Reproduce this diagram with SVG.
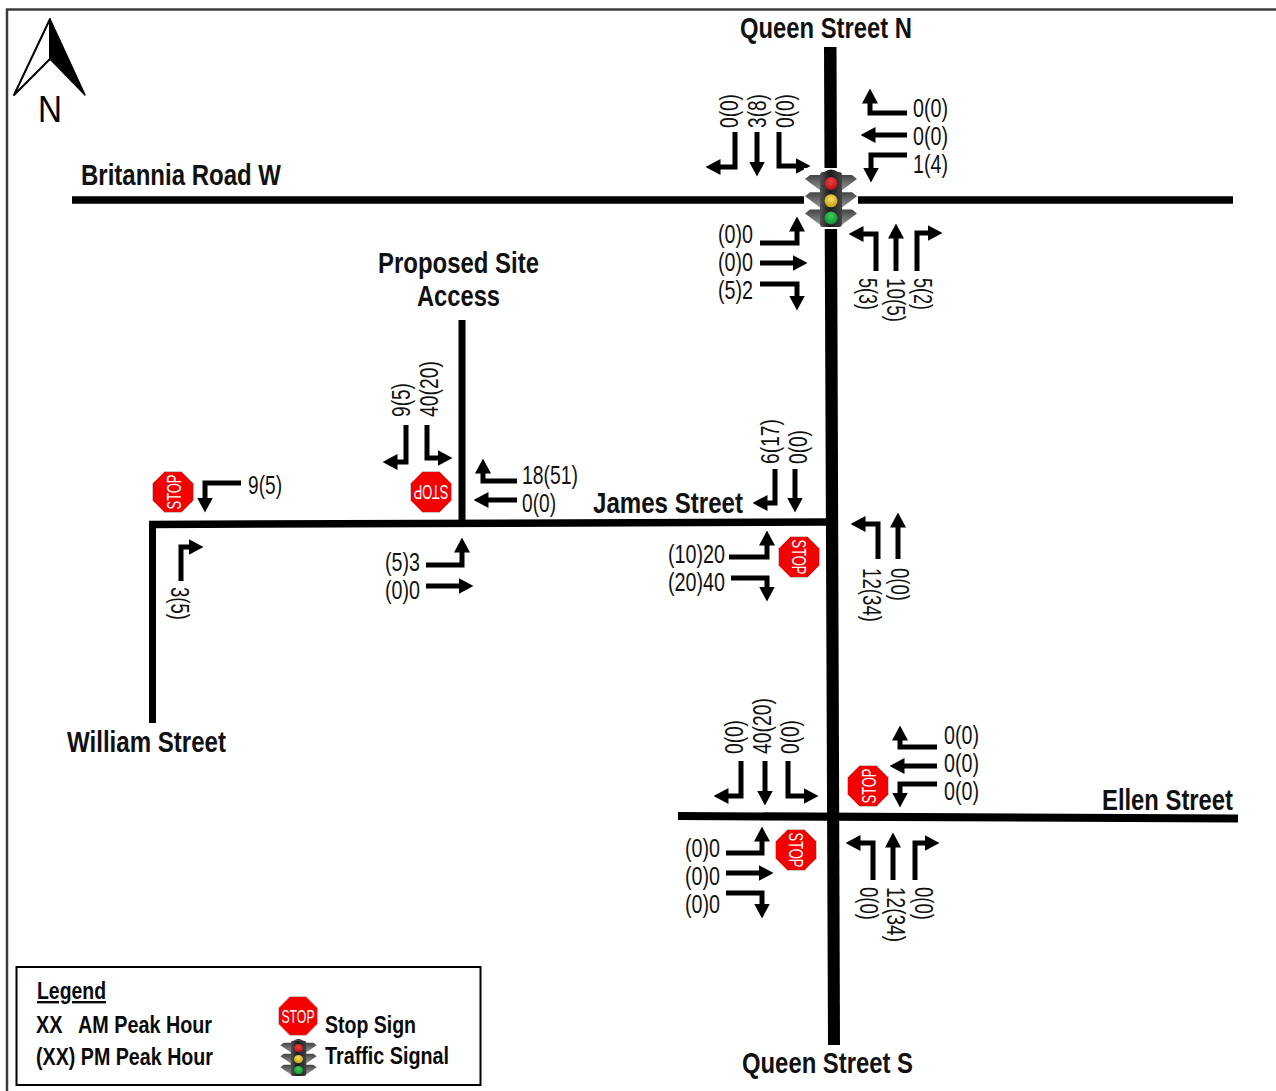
<svg xmlns="http://www.w3.org/2000/svg" width="1276" height="1091" viewBox="0 0 1276 1091">
<style>
text{font-family:"Liberation Sans",Arial,sans-serif;fill:#000}
.n{font-size:26px;fill:#111}
.t{font-size:30px;font-weight:700;fill:#111}
.l{font-size:24px;font-weight:700;white-space:pre;fill:#0a0a0a}
.s{font-size:20px;fill:#fff;font-weight:400}
.a{fill:none;stroke:#000;stroke-width:5;stroke-linejoin:miter;marker-end:url(#h)}
.r{fill:none;stroke:#000}
.oct{fill:#f50000;stroke:#c8c8c8;stroke-width:1}
.v{fill:url(#vis)}
</style>
<defs>
<marker id="h" viewBox="0 0 15 16" refX="0.5" refY="8" markerWidth="15" markerHeight="16" markerUnits="userSpaceOnUse" orient="auto"><path d="M0 0L15 8L0 16z" fill="#000"/></marker>
<linearGradient id="body" x1="0" x2="1" y1="0" y2="0"><stop offset="0" stop-color="#555"/><stop offset=".45" stop-color="#1a1a1a"/><stop offset="1" stop-color="#444"/></linearGradient>
<linearGradient id="vis" x1="0" x2="0" y1="0" y2="1"><stop offset="0" stop-color="#444"/><stop offset="1" stop-color="#9a9a9a"/></linearGradient>
<radialGradient id="red" cx=".5" cy=".35" r=".7"><stop offset="0" stop-color="#f04040"/><stop offset="1" stop-color="#a80d18"/></radialGradient>
<radialGradient id="yel" cx=".5" cy=".35" r=".7"><stop offset="0" stop-color="#f5e060"/><stop offset="1" stop-color="#c09a10"/></radialGradient>
<radialGradient id="grn" cx=".5" cy=".35" r=".7"><stop offset="0" stop-color="#40d060"/><stop offset="1" stop-color="#0a8a2a"/></radialGradient>
<g id="stop"><polygon class="oct" points="-8.500,-20.500 8.500,-20.500 20.500,-8.500 20.500,8.500 8.500,20.500 -8.500,20.500 -20.500,8.500 -20.500,-8.500"/><text class="s" x="-17.500" y="7.500" textLength="35" lengthAdjust="spacingAndGlyphs">STOP</text></g>
<g id="signal">
<rect x="-27" y="-31" width="54" height="61" fill="#fff"/>
<polygon class="v" points="-26,-20 -21,-24 -10,-24 -10,-8"/><polygon class="v" points="26,-20 21,-24 10,-24 10,-8"/>
<polygon class="v" points="-26,-2.700 -21,-6.700 -10,-6.700 -10,9.300"/><polygon class="v" points="26,-2.700 21,-6.700 10,-6.700 10,9.300"/>
<polygon class="v" points="-26,14.600 -21,10.600 -10,10.600 -10,26.600"/><polygon class="v" points="26,14.600 21,10.600 10,10.600 10,26.600"/>
<rect x="-11" y="-27" width="22" height="55" rx="3" fill="url(#body)"/>
<path d="M-7-27Q0-32 7-27z" fill="#222"/>
<circle cx="0" cy="-15.500" r="6.500" fill="url(#red)"/><circle cx="0" cy="1.800" r="6.500" fill="url(#yel)"/><circle cx="0" cy="19" r="6.500" fill="url(#grn)"/>
</g>
</defs>
<rect width="1276" height="1091" fill="#fff"/>
<path id="frame" d="M7 1091V9.500H1276" fill="none" stroke="#3c3c3c" stroke-width="2.500"/>
<g id="connectors">
<g id="roads">
<polygon points="824,47 836.500,47 840,1045 828,1045" fill="#000"/>
<path class="r" stroke-width="7.500" d="M72 200H1233"/>
<path class="r" stroke-width="7.500" d="M149 524.500L829 522"/>
<path class="r" stroke-width="7" d="M152.500 521V723"/>
<path class="r" stroke-width="7" d="M462 320V524"/>
<path class="r" stroke-width="8" d="M678 816L1238 818.500"/>
</g>
<g id="arrows">
<path class="a" d="M735 132V167H720"/><path class="a" d="M757 132V162"/><path class="a" d="M779 132V166H796"/>
<path class="a" d="M907 113H870V103"/><path class="a" d="M907 135H875"/><path class="a" d="M907 155H871V168"/>
<path class="a" d="M760 243H797V231"/><path class="a" d="M760 263H793"/><path class="a" d="M760 284H797V296"/>
<path class="a" d="M876 271V234H863"/><path class="a" d="M896 271V238"/><path class="a" d="M917 271V233H928"/>
<path class="a" d="M406 425V462H397"/><path class="a" d="M427 425V458H438"/><path class="a" d="M517 481H483V473"/><path class="a" d="M517 500H488"/><path class="a" d="M426 565H462V552"/><path class="a" d="M426 586H459"/>
<path class="a" d="M775 469V503H767"/><path class="a" d="M795 469V498"/><path class="a" d="M729 557H767V545"/><path class="a" d="M731 578H767V587"/><path class="a" d="M878 559V524H865"/><path class="a" d="M898 559V527"/>
<path class="a" d="M241 483H205V498"/><path class="a" d="M181 581V547H189"/>
<path class="a" d="M741 761V796H728"/><path class="a" d="M765 761V791"/><path class="a" d="M788 761V796H804"/>
<path class="a" d="M937 747H900V740"/><path class="a" d="M937 766H904"/><path class="a" d="M937 784H900V793"/>
<path class="a" d="M726 853H762V841"/><path class="a" d="M726 873H759"/><path class="a" d="M726 893H762V904"/>
<path class="a" d="M873 880V843H860"/><path class="a" d="M893 880V847"/><path class="a" d="M915 880V843H925"/>
</g>
</g>
<g id="north-arrow">
<polygon points="50,19 14,95 50,59" fill="#fff" stroke="#000" stroke-width="2" stroke-linejoin="round"/>
<polygon points="50,19 85,95 50,59" fill="#000" stroke="#000" stroke-width="1.500" stroke-linejoin="round"/>
<text x="38" y="122" textLength="24" lengthAdjust="spacingAndGlyphs" style="font-size:37px">N</text>
</g>
<g id="signal-britannia-queen"><use href="#signal" transform="translate(831,199)"/></g>
<g id="stop-william"><use href="#stop" transform="translate(173,492) rotate(-90)"/></g>
<g id="stop-site"><use href="#stop" transform="translate(431,492) rotate(180)"/></g>
<g id="stop-james"><use href="#stop" transform="translate(799,557) rotate(90)"/></g>
<g id="stop-ellen-east"><use href="#stop" transform="translate(868,786) rotate(-90)"/></g>
<g id="stop-ellen-west"><use href="#stop" transform="translate(796,850) rotate(90)"/></g>
<g id="street-names">
<text class="t" x="740" y="37.500" textLength="172" lengthAdjust="spacingAndGlyphs">Queen Street N</text>
<text class="t" x="742" y="1072.500" textLength="171" lengthAdjust="spacingAndGlyphs">Queen Street S</text>
<text class="t" x="81" y="185" textLength="200" lengthAdjust="spacingAndGlyphs">Britannia Road W</text>
<text class="t" x="378" y="272.500" textLength="161" lengthAdjust="spacingAndGlyphs">Proposed Site</text>
<text class="t" x="417" y="305.500" textLength="83" lengthAdjust="spacingAndGlyphs">Access</text>
<text class="t" x="593" y="512.500" textLength="150" lengthAdjust="spacingAndGlyphs">James Street</text>
<text class="t" x="67" y="751.500" textLength="159" lengthAdjust="spacingAndGlyphs">William Street</text>
<text class="t" x="1102" y="810" textLength="131" lengthAdjust="spacingAndGlyphs">Ellen Street</text>
</g>
<g id="volumes">
<text class="n" transform="translate(738,128) rotate(-90)" textLength="34" lengthAdjust="spacingAndGlyphs">0(0)</text>
<text class="n" transform="translate(766,128) rotate(-90)" textLength="34" lengthAdjust="spacingAndGlyphs">3(8)</text>
<text class="n" transform="translate(794,128) rotate(-90)" textLength="34" lengthAdjust="spacingAndGlyphs">0(0)</text>
<text class="n" x="913" y="117" textLength="35" lengthAdjust="spacingAndGlyphs">0(0)</text>
<text class="n" x="913" y="145" textLength="35" lengthAdjust="spacingAndGlyphs">0(0)</text>
<text class="n" x="913" y="173" textLength="35" lengthAdjust="spacingAndGlyphs">1(4)</text>
<text class="n" x="718" y="243" textLength="35" lengthAdjust="spacingAndGlyphs">(0)0</text>
<text class="n" x="718" y="271" textLength="35" lengthAdjust="spacingAndGlyphs">(0)0</text>
<text class="n" x="718" y="299" textLength="35" lengthAdjust="spacingAndGlyphs">(5)2</text>
<text class="n" transform="translate(858.500,278) rotate(90)" textLength="32" lengthAdjust="spacingAndGlyphs">5(3)</text>
<text class="n" transform="translate(886.500,278) rotate(90)" textLength="44" lengthAdjust="spacingAndGlyphs">10(5)</text>
<text class="n" transform="translate(914,278) rotate(90)" textLength="32" lengthAdjust="spacingAndGlyphs">5(2)</text>
<text class="n" transform="translate(410,417) rotate(-90)" textLength="34" lengthAdjust="spacingAndGlyphs">9(5)</text>
<text class="n" transform="translate(438,417) rotate(-90)" textLength="56" lengthAdjust="spacingAndGlyphs">40(20)</text>
<text class="n" x="522" y="484" textLength="56" lengthAdjust="spacingAndGlyphs">18(51)</text>
<text class="n" x="522" y="512" textLength="34" lengthAdjust="spacingAndGlyphs">0(0)</text>
<text class="n" x="385" y="571" textLength="35" lengthAdjust="spacingAndGlyphs">(5)3</text>
<text class="n" x="385" y="599" textLength="35" lengthAdjust="spacingAndGlyphs">(0)0</text>
<text class="n" x="248" y="493.500" textLength="34" lengthAdjust="spacingAndGlyphs">9(5)</text>
<text class="n" transform="translate(171,587) rotate(90)" textLength="33" lengthAdjust="spacingAndGlyphs">3(5)</text>
<text class="n" transform="translate(779,464) rotate(-90)" textLength="45" lengthAdjust="spacingAndGlyphs">6(17)</text>
<text class="n" transform="translate(807,464) rotate(-90)" textLength="34" lengthAdjust="spacingAndGlyphs">0(0)</text>
<text class="n" x="668" y="563" textLength="57" lengthAdjust="spacingAndGlyphs">(10)20</text>
<text class="n" x="668" y="591" textLength="57" lengthAdjust="spacingAndGlyphs">(20)40</text>
<text class="n" transform="translate(863,568) rotate(90)" textLength="54" lengthAdjust="spacingAndGlyphs">12(34)</text>
<text class="n" transform="translate(891,568) rotate(90)" textLength="33" lengthAdjust="spacingAndGlyphs">0(0)</text>
<text class="n" transform="translate(743,754) rotate(-90)" textLength="34" lengthAdjust="spacingAndGlyphs">0(0)</text>
<text class="n" transform="translate(771,754) rotate(-90)" textLength="56" lengthAdjust="spacingAndGlyphs">40(20)</text>
<text class="n" transform="translate(799,754) rotate(-90)" textLength="34" lengthAdjust="spacingAndGlyphs">0(0)</text>
<text class="n" x="944" y="743.500" textLength="35" lengthAdjust="spacingAndGlyphs">0(0)</text>
<text class="n" x="944" y="771.500" textLength="35" lengthAdjust="spacingAndGlyphs">0(0)</text>
<text class="n" x="944" y="799.500" textLength="35" lengthAdjust="spacingAndGlyphs">0(0)</text>
<text class="n" x="685" y="856.500" textLength="35" lengthAdjust="spacingAndGlyphs">(0)0</text>
<text class="n" x="685" y="884.500" textLength="35" lengthAdjust="spacingAndGlyphs">(0)0</text>
<text class="n" x="685" y="912.500" textLength="35" lengthAdjust="spacingAndGlyphs">(0)0</text>
<text class="n" transform="translate(860,887) rotate(90)" textLength="33" lengthAdjust="spacingAndGlyphs">0(0)</text>
<text class="n" transform="translate(887,887) rotate(90)" textLength="55" lengthAdjust="spacingAndGlyphs">12(34)</text>
<text class="n" transform="translate(915,887) rotate(90)" textLength="33" lengthAdjust="spacingAndGlyphs">0(0)</text>
</g>
<g id="legend">
<rect x="16.500" y="967" width="464" height="118" fill="#fff" stroke="#000" stroke-width="2"/>
<text class="l" x="37" y="999" textLength="69" lengthAdjust="spacingAndGlyphs" text-decoration="underline">Legend</text>
<text class="l" x="36" y="1033" textLength="176" lengthAdjust="spacingAndGlyphs">XX   AM Peak Hour</text>
<text class="l" x="36" y="1065" textLength="177" lengthAdjust="spacingAndGlyphs">(XX) PM Peak Hour</text>
<use href="#stop" transform="translate(298,1016) scale(.95)"/>
<use href="#signal" transform="translate(298.500,1058) scale(.7,.64)"/>
<text class="l" x="325" y="1033" textLength="91" lengthAdjust="spacingAndGlyphs">Stop Sign</text>
<text class="l" x="325" y="1064" textLength="124" lengthAdjust="spacingAndGlyphs">Traffic Signal</text>
</g>
</svg>
